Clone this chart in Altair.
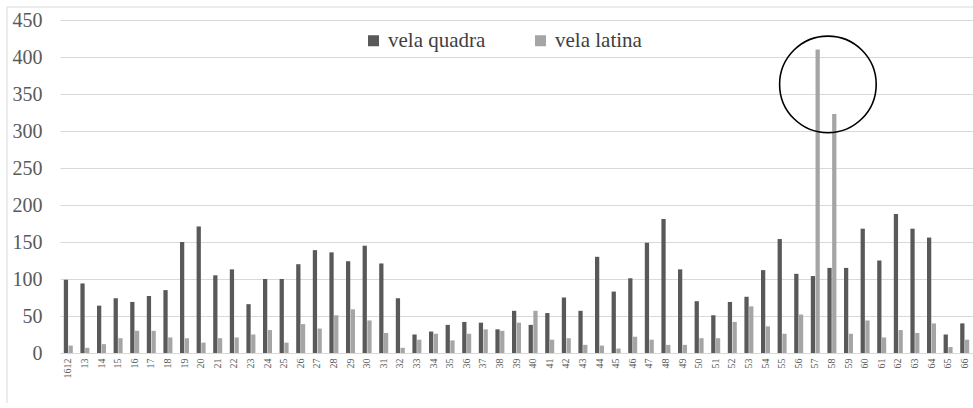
import altair as alt
import pandas as pd

# Years (1612, then abbreviated 13..66)
years = ["1612", "13", "14", "15", "16", "17", "18", "19", "20", "21", "22",
         "23", "24", "25", "26", "27", "28", "29", "30", "31", "32", "33",
         "34", "35", "36", "37", "38", "39", "40", "41", "42", "43", "44",
         "45", "46", "47", "48", "49", "50", "51", "52", "53", "54", "55",
         "56", "57", "58", "59", "60", "61", "62", "63", "64", "65", "66"]

vela_quadra = [99, 94, 64, 74, 69, 77, 85, 150, 171, 105, 113,
               66, 100, 100, 120, 139, 136, 124, 145, 121, 74, 25,
               29, 38, 42, 41, 32, 57, 38, 54, 75, 57, 130,
               83, 101, 149, 181, 113, 70, 51, 69, 76, 112, 154,
               107, 104, 115, 115, 168, 125, 188, 168, 156, 25, 40]

vela_latina = [10, 7, 12, 20, 30, 30, 21, 20, 14, 20, 21,
               25, 31, 14, 39, 33, 51, 59, 44, 27, 7, 18,
               26, 17, 26, 32, 30, 41, 57, 18, 20, 11, 10,
               6, 22, 18, 11, 11, 20, 20, 42, 63, 36, 26,
               52, 410, 323, 26, 44, 21, 31, 27, 40, 8, 18]

series_names = ["vela quadra", "vela latina"]
series_colors = ["#595959", "#a5a5a5"]

# Highlight ring around the peak years
ring_year = ["58"]
ring_value = [363]

rows = []
for i, y in enumerate(years):
    rows.append({"anno": y, "serie": series_names[0], "valore": vela_quadra[i]})
    rows.append({"anno": y, "serie": series_names[1], "valore": vela_latina[i]})
df = pd.DataFrame(rows)
ring_df = pd.DataFrame({"anno": ring_year, "valore": ring_value})

FONT = "Liberation Serif"

x_axis = alt.Axis(title=None, labelAngle=270, labelAlign="right",
                  labelBaseline="middle", labelFont=FONT,
                  labelFontSize=10, labelColor="#595959",
                  labelPadding=5, ticks=False, domain=True,
                  domainColor="#d9d9d9", grid=False,
                  labelOverlap=False)
y_axis = alt.Axis(title=None, values=list(range(0, 451, 50)),
                  labelFont=FONT, labelFontSize=20,
                  labelColor="#595959", labelPadding=18,
                  labelOverlap=False, labelFlush=False,
                  ticks=False, domain=False, grid=True,
                  gridColor="#d9d9d9", gridWidth=1)
x_scale = alt.Scale(paddingInner=0.458, paddingOuter=0.229)
y_scale = alt.Scale(domain=[0, 450], nice=False)

frame = alt.Chart(ring_df).mark_rect(
    fill="transparent", stroke="#d9d9d9", strokeWidth=1
).encode(x=alt.value(-53), x2=alt.value(1100),
         y=alt.value(-13), y2=alt.value(600))

bars = alt.Chart(df).mark_bar().encode(
    x=alt.X("anno:N", sort=years, scale=x_scale, axis=x_axis),
    y=alt.Y("valore:Q", scale=y_scale, axis=y_axis),
    xOffset=alt.XOffset("serie:N", sort=series_names,
                        scale=alt.Scale(paddingInner=0.1, paddingOuter=0)),
    color=alt.Color("serie:N", sort=series_names,
                    scale=alt.Scale(domain=series_names, range=series_colors),
                    legend=alt.Legend(title=None, orient="none",
                                      direction="horizontal",
                                      legendX=303, legendY=10,
                                      symbolType="square", symbolSize=121,
                                      symbolStrokeWidth=0,
                                      labelFont=FONT, labelFontSize=21,
                                      labelColor="#404040", labelOffset=4,
                                      columnPadding=44)),
)

ring = alt.Chart(ring_df).mark_point(
    shape="circle", filled=False, size=9330, stroke="black",
    strokeWidth=1.6, opacity=1, xOffset=-4
).encode(
    x=alt.X("anno:N", sort=years, scale=x_scale, axis=x_axis),
    y=alt.Y("valore:Q", scale=y_scale, axis=y_axis),
)

chart = (
    alt.layer(frame, bars, ring)
    .properties(
        width=913, height=333,
        autosize=alt.AutoSizeParams(type="none"),
        padding={"left": 60, "top": 20, "right": 0, "bottom": 50},
    )
    .configure(background="white", font=FONT)
    .configure_view(stroke="transparent", strokeWidth=0)
    .configure_axis(labelFont=FONT)
    .configure_legend(labelFont=FONT)
)

chart.save("out.html", embed_options={"renderer": "svg", "actions": False})
